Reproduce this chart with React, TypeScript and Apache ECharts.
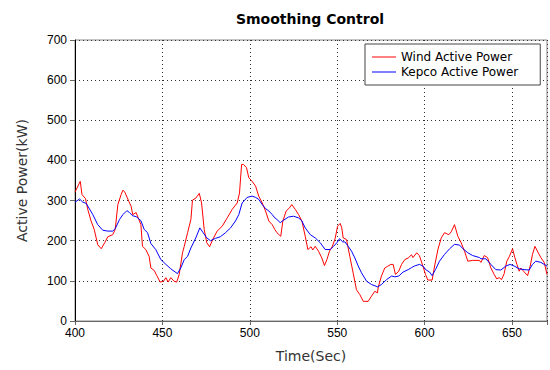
import React, { useEffect, useRef } from "react";
import * as echarts from "echarts";

const windTime = [400, 403, 404, 406, 407.3, 409.2, 411, 413, 415, 417, 418.8, 421.6, 423, 424.5, 426.4, 427.4, 428.5, 430.8, 432.1, 433, 435, 436.5, 437.7, 438.6, 440.5, 442.4, 443.4, 445.3, 446.8, 448.7, 450.6, 452, 453.3, 454.8, 456.7, 458.2, 459.6, 461.5, 462.5, 464.4, 466.3, 467.2, 469.1, 471.1, 472.4, 473.9, 475.4, 477, 478.8, 481.3, 484.2, 487.1, 489.9, 492.8, 494.1, 495.3, 496.4, 498.1, 499.4, 501.3, 503.3, 505.1, 507.1, 509, 510.9, 512.8, 514.3, 515.5, 517.7, 518.9, 520.8, 522.7, 524, 526, 527.9, 529.8, 531.7, 533.2, 535, 536, 537.4, 539.3, 541.2, 542.7, 544.1, 545.6, 547.1, 548.8, 550.2, 551.7, 552.6, 553.4, 555.3, 557.2, 559.1, 561, 562.9, 564.9, 567.7, 569.6, 571.5, 573, 573.5, 575.3, 577.2, 578.7, 580.7, 582, 583.3, 585.2, 586.8, 588.7, 590.6, 592.5, 593.3, 595.5, 597, 599, 600.5, 601.8, 604.3, 605.7, 607.6, 609.5, 611.4, 613.8, 615.2, 617.1, 619, 620.9, 622.8, 624.7, 627.5, 631.4, 632.2, 634.1, 636, 637.9, 639.8, 641.2, 642.7, 644, 645.5, 647, 648.4, 650.3, 651.6, 652.8, 654.1, 655, 656.6, 658.9, 660.4, 661.7, 663.1, 665, 666.5, 668.4, 670];
const windPower = [321, 348, 315, 305, 278, 249, 228, 190, 180, 195, 210, 215, 228, 290, 315, 326, 321, 298, 286, 265, 270, 253, 240, 186, 178, 161, 132, 126, 113, 97, 99, 108, 97, 108, 99, 97, 116, 170, 186, 220, 253, 301, 306, 318, 294, 228, 195, 185, 203, 224, 236, 257, 278, 294, 319, 390, 390, 382, 357, 348, 336, 311, 294, 274, 249, 240, 228, 220, 211, 249, 274, 282, 290, 278, 265, 249, 211, 178, 185, 177, 186, 174, 157, 138, 153, 174, 185, 205, 236, 243, 232, 207, 203, 161, 120, 78, 66, 49, 49, 62, 74, 70, 85, 112, 132, 136, 141, 141, 116, 124, 141, 153, 157, 165, 158, 170, 163, 137, 116, 102, 102, 137, 178, 207, 220, 215, 222, 240, 211, 195, 174, 149, 151, 151, 146, 163, 158, 132, 116, 105, 108, 103, 118, 149, 160, 180, 158, 141, 124, 132, 124, 113, 137, 166, 186, 170, 158, 146, 116];

const kepcoTime = [400, 402.6, 404.5, 406.4, 408.3, 410.2, 413, 415.9, 418.8, 421.6, 423, 425.5, 427.4, 429.7, 431.2, 433, 435, 437.7, 439.6, 441.5, 443.4, 446.2, 449.1, 452, 454.8, 458.6, 460.5, 462.5, 464.4, 466.3, 469.1, 471.4, 473.3, 475.4, 477.5, 480.4, 483.2, 486.1, 489, 491.8, 493.7, 495.6, 498.5, 501.3, 503.3, 505.1, 507.1, 509, 510.9, 512.8, 514.3, 515.5, 517.4, 519.3, 522.1, 525, 527.9, 529.8, 531.7, 534.6, 537.4, 540.3, 543.1, 546, 547.9, 549.8, 551.3, 553.2, 554.4, 556.3, 558.2, 560.1, 562, 563.9, 566.8, 569.6, 573.1, 575.3, 578.2, 581.1, 583, 585.2, 587.7, 590.6, 592.5, 594.2, 597, 599, 600.9, 602.8, 604.3, 606.2, 608.5, 611.4, 614.3, 617.1, 620, 621.9, 624.7, 627.5, 631.4, 632.2, 635, 637.9, 640.7, 643.6, 646.5, 648.9, 651.2, 654.1, 656.9, 659.8, 661.7, 663.6, 666.5, 668.4, 670];
const kepcoPower = [296, 304, 296, 293, 279, 265, 240, 226, 224, 224, 230, 253, 265, 275, 270, 262, 260, 250, 228, 220, 193, 178, 153, 141, 130, 118, 132, 153, 161, 182, 207, 232, 220, 207, 200, 206, 210, 220, 232, 249, 265, 294, 308, 311, 308, 303, 290, 280, 274, 265, 257, 253, 245, 251, 259, 261, 257, 249, 232, 215, 207, 195, 178, 178, 186, 195, 205, 197, 197, 186, 174, 157, 137, 120, 99, 91, 85, 91, 103, 112, 110, 112, 122, 128, 133, 137, 141, 137, 127, 122, 113, 128, 149, 166, 180, 191, 189, 180, 170, 163, 158, 155, 155, 141, 128, 127, 137, 141, 137, 130, 128, 127, 141, 149, 146, 141, 137];

const seriesNames = ["Wind Active Power", "Kepco Active Power"];

const FONT = "'Liberation Sans', Arial, sans-serif";
const WIDE = "'DejaVu Sans', Verdana, sans-serif";

export default function App() {
  const ref = useRef<HTMLDivElement>(null);
  useEffect(() => {
    if (!ref.current) return;
    const chart = echarts.init(ref.current, undefined, { renderer: "svg" });
    const wind = windTime.map((t, i) => [t, windPower[i]]);
    const kepco = kepcoTime.map((t, i) => [t, kepcoPower[i]]);
    chart.setOption({
      animation: false,
      backgroundColor: "#ffffff",
      title: {
        text: "Smoothing Control",
        left: 305,
        top: 7,
        textAlign: "center",
        textStyle: { fontFamily: WIDE, fontSize: 14, fontWeight: "bold", color: "#000" },
      },
      legend: {
        orient: "vertical",
        left: 365,
        top: 44,
        padding: [7, 22, 7, 7],
        itemGap: 3,
        itemWidth: 24,
        itemHeight: 1,
        icon: "rect",
        borderColor: "#444",
        borderWidth: 1,
        backgroundColor: "#fff",
        textStyle: { fontFamily: WIDE, fontSize: 12, color: "#000", lineHeight: 12 },
        data: seriesNames,
      },
      grid: {
        left: 75,
        right: 2,
        top: 40,
        bottom: 49,
        show: true,
        borderColor: "#888",
        borderWidth: 1,
      },
      xAxis: {
        type: "value",
        min: 400,
        max: 670,
        interval: 50,
        name: "Time(Sec)",
        nameLocation: "middle",
        nameGap: 28,
        nameTextStyle: { fontFamily: WIDE, fontSize: 14, color: "#333" },
        axisLine: { show: true, onZero: false, lineStyle: { color: "#666", width: 1 } },
        axisTick: { show: true, length: 4, lineStyle: { color: "#666" } },
        axisLabel: {
          fontFamily: FONT,
          fontSize: 12,
          color: "#000",
          margin: 6,
          formatter: (v: number) => (v % 50 === 0 ? String(v) : ""),
        },
        splitLine: { show: true, lineStyle: { type: [1, 3], color: "#333" } },
      },
      yAxis: {
        type: "value",
        min: 0,
        max: 700,
        interval: 100,
        name: "Active Power(kW)",
        nameLocation: "middle",
        nameGap: 46,
        nameTextStyle: { fontFamily: WIDE, fontSize: 14, color: "#333" },
        axisLine: { show: true, lineStyle: { color: "#000", width: 1 } },
        axisTick: { show: true, length: 5, lineStyle: { color: "#666" } },
        axisLabel: { fontFamily: FONT, fontSize: 12, color: "#000", margin: 8 },
        splitLine: { show: true, lineStyle: { type: [1, 3], color: "#333" } },
      },
      series: [
        {
          name: seriesNames[0],
          type: "line",
          data: wind,
          symbol: "none",
          lineStyle: { color: "#ff0000", width: 1 },
          itemStyle: { color: "#ff0000" },
        },
        {
          name: seriesNames[1],
          type: "line",
          data: kepco,
          symbol: "none",
          lineStyle: { color: "#0000ff", width: 1 },
          itemStyle: { color: "#0000ff" },
        },
      ],
    });
    return () => chart.dispose();
  }, []);
  return <div ref={ref} style={{ width: 550, height: 370, position: "absolute", left: 0, top: 0 }} />;
}
